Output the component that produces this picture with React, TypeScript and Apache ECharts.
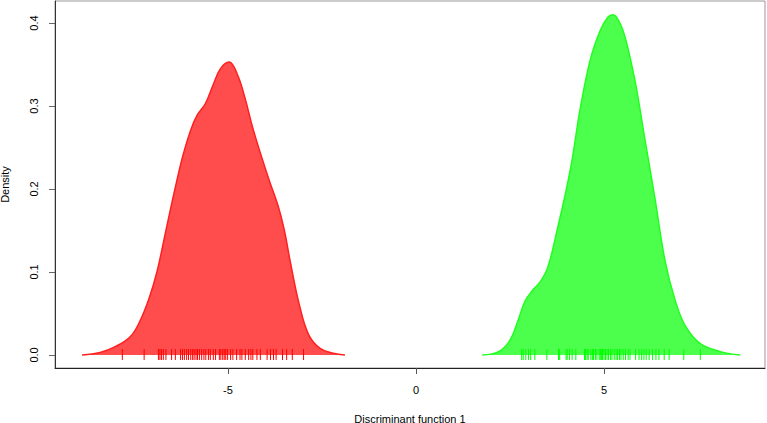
import React, { useEffect, useRef } from "react";
import * as echarts from "echarts";

const redDensity: [number, number][] = [
  [-8.88, 0], [-8.4, 0.003], [-8.0, 0.01], [-7.6, 0.022], [-7.35, 0.04], [-7.1, 0.068],
  [-6.89, 0.1], [-6.65, 0.15], [-6.41, 0.2], [-6.2, 0.24], [-6.0, 0.27], [-5.82, 0.289],
  [-5.6, 0.303], [-5.4, 0.325], [-5.2, 0.345], [-4.97, 0.353], [-4.75, 0.338],
  [-4.55, 0.31], [-4.35, 0.275], [-4.15, 0.245], [-3.9, 0.21], [-3.67, 0.18], [-3.5, 0.15],
  [-3.35, 0.114], [-3.1, 0.06], [-2.85, 0.024], [-2.55, 0.008], [-2.2, 0.002], [-1.89, 0],
];

const greenDensity: [number, number][] = [
  [1.76, 0], [2.2, 0.004], [2.5, 0.018], [2.7, 0.04], [2.9, 0.065], [3.1, 0.078],
  [3.3, 0.088], [3.5, 0.105], [3.75, 0.15], [4.0, 0.2], [4.15, 0.235], [4.36, 0.295],
  [4.63, 0.355], [4.89, 0.39], [5.1, 0.407], [5.24, 0.41], [5.4, 0.402], [5.56, 0.383],
  [5.82, 0.331], [6.09, 0.259], [6.36, 0.187], [6.62, 0.114], [6.89, 0.066], [7.15, 0.036],
  [7.55, 0.014], [8.09, 0.004], [8.62, 0],
];

const redRug: number[] = [
  -7.81, -7.23, -6.85, -6.81, -6.77, -6.72, -6.65, -6.5, -6.4, -6.26, -6.21, -6.16, -6.1,
  -6.05, -5.99, -5.94, -5.9, -5.85, -5.81, -5.76, -5.7, -5.64, -5.59, -5.52, -5.47, -5.39,
  -5.33, -5.23, -5.19, -5.14, -5.1, -5.06, -5.01, -4.93, -4.87, -4.77, -4.68, -4.63, -4.54,
  -4.45, -4.39, -4.34, -4.23, -4.14, -3.96, -3.87, -3.79, -3.72, -3.55, -3.44, -3.29, -2.99,
];

const greenRug: number[] = [
  2.81, 2.85, 2.92, 2.99, 3.05, 3.16, 3.48, 3.79, 3.82, 3.99, 4.02, 4.08, 4.15, 4.25, 4.48,
  4.51, 4.55, 4.58, 4.65, 4.69, 4.72, 4.77, 4.81, 4.87, 4.9, 4.93, 4.96, 5.0, 5.04, 5.08,
  5.12, 5.17, 5.21, 5.27, 5.32, 5.36, 5.41, 5.45, 5.51, 5.57, 5.64, 5.69, 5.84, 5.93, 6.0,
  6.06, 6.12, 6.2, 6.29, 6.38, 6.46, 6.6, 6.73, 7.12, 7.56,
];

const xTicks = [-5, 0, 5];
const yTicks = [0, 0.1, 0.2, 0.3, 0.4];

const FONT = "Liberation Sans, Arial, Helvetica, sans-serif";

function rugSeries(values: number[], color: string) {
  return {
    type: "custom",
    data: values.map((v) => [v, 0]),
    renderItem: (_p: any, api: any) => {
      const pt = api.coord([api.value(0), 0]);
      return {
        type: "line",
        shape: { x1: pt[0], y1: pt[1] - 6, x2: pt[0], y2: pt[1] + 5 },
        style: { stroke: color, lineWidth: 1 },
      };
    },
    z: 5,
  };
}

export default function App() {
  const ref = useRef<HTMLDivElement>(null);
  useEffect(() => {
    if (!ref.current) return;
    const chart = echarts.init(ref.current, undefined, { renderer: "svg" });
    chart.setOption({
      animation: false,
      backgroundColor: "#fff",
      textStyle: { fontFamily: FONT },
      grid: {
        left: 55,
        top: 1,
        width: 710,
        height: 367,
        show: true,
        borderColor: "#999",
        borderWidth: 1,
        containLabel: false,
        outerBoundsMode: "none",
      },
      xAxis: {
        type: "value",
        min: -9.6,
        max: 9.28,
        name: "Discriminant function 1",
        nameLocation: "middle",
        nameGap: 45,
        nameTextStyle: { color: "#000", fontSize: 11, fontFamily: FONT },
        splitLine: { show: false },
        axisLine: { show: true, onZero: false, lineStyle: { color: "#222", width: 1 } },
        axisTick: { show: true, length: 6, customValues: xTicks, lineStyle: { color: "#555" } },
        axisLabel: {
          customValues: xTicks,
          margin: 16,
          color: "#000",
          fontSize: 11,
          fontFamily: FONT,
        },
      },
      yAxis: {
        type: "value",
        min: -0.0157,
        max: 0.4265,
        name: "Density",
        nameLocation: "middle",
        nameGap: 45,
        nameRotate: 90,
        nameTextStyle: { color: "#000", fontSize: 11, fontFamily: FONT },
        splitLine: { show: false },
        axisLine: { show: true, onZero: false, lineStyle: { color: "#333", width: 1 } },
        axisTick: { show: true, length: 6, customValues: yTicks, lineStyle: { color: "#666" } },
        axisLabel: {
          customValues: yTicks,
          rotate: 90,
          margin: 16,
          color: "#000",
          fontSize: 11,
          fontFamily: FONT,
          formatter: (v: number) => v.toFixed(1),
        },
      },
      series: [
        {
          type: "line",
          data: redDensity,
          smooth: 0.4,
          symbol: "none",
          lineStyle: { color: "#ff2020", width: 1.5 },
          areaStyle: { color: "#ff4d4d", opacity: 1, origin: 0 },
          z: 2,
        },
        {
          type: "line",
          data: greenDensity,
          smooth: 0.4,
          symbol: "none",
          lineStyle: { color: "#20ff20", width: 1.5 },
          areaStyle: { color: "#4dff4d", opacity: 1, origin: 0 },
          z: 2,
        },
        rugSeries(redRug, "#ff0000"),
        rugSeries(greenRug, "#00ff00"),
      ],
    });
    return () => chart.dispose();
  }, []);
  return <div ref={ref} style={{ width: 767, height: 423, position: "absolute", left: 0, top: 0 }} />;
}
